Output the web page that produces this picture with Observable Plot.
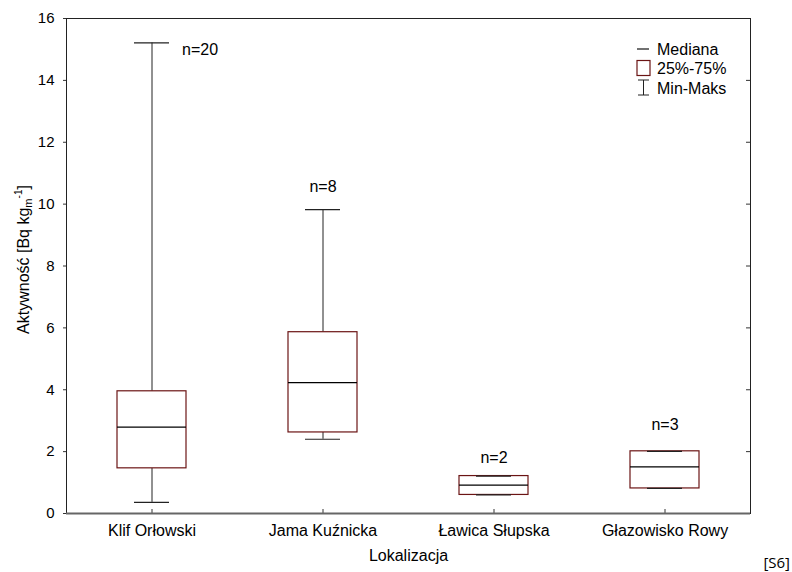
<!DOCTYPE html>
<html>
<head>
<meta charset="utf-8">
<script src="https://cdn.jsdelivr.net/npm/d3@7"></script>
<script src="https://cdn.jsdelivr.net/npm/@observablehq/plot@0.6"></script>
<style>
  html, body { margin: 0; padding: 0; background: #fff; }
  #chart svg { display: block; }
</style>
</head>
<body>
<div id="chart"></div>
<script>
// ---- data ----
const categories = ["Klif Orłowski", "Jama Kuźnicka", "Ławica Słupska", "Głazowisko Rowy"];
const minVals    = [0.36, 2.40, 0.60, 0.81];
const q1Vals     = [1.46, 2.62, 0.60, 0.81];
const medianVals = [2.79, 4.23, 0.92, 1.51];
const q3Vals     = [3.95, 5.86, 1.21, 2.01];
const maxVals    = [15.21, 9.82, 1.21, 2.01];
const nCounts    = [20, 8, 2, 3];
const nLabelY    = [15.0, 10.55, 1.8, 2.88];
const nLabelSide = ["right", "above", "above", "above"];
const yTicks     = [0, 2, 4, 6, 8, 10, 12, 14, 16];
const legendItems = ["Mediana", "25%-75%", "Min-Maks"];

const rows = categories.map((c, i) => ({
  cat: c, min: minVals[i], q1: q1Vals[i], med: medianVals[i], q3: q3Vals[i], max: maxVals[i],
  n: nCounts[i], ly: nLabelY[i], side: nLabelSide[i]
}));

const W = 792, H = 572;
const mL = 66, mR = 42, mT = 18, mB = 59;
const boxColor = "#6b1414";
const font = "'Liberation Sans', Arial, sans-serif";

const plot = Plot.plot({
  width: W, height: H,
  marginLeft: mL, marginRight: mR, marginTop: mT, marginBottom: mB,
  style: { fontFamily: font, fontSize: "16px", background: "#fff", color: "#000" },
  x: { domain: categories, padding: 0, label: null },
  y: { domain: [0, 16], label: null },
  marks: [
    // whiskers
    Plot.ruleX(rows, { x: "cat", y1: "min", y2: "q1", stroke: "#222", strokeWidth: 1 }),
    Plot.ruleX(rows, { x: "cat", y1: "q3", y2: "max", stroke: "#222", strokeWidth: 1 }),
    // boxes
    Plot.barY(rows, { x: "cat", y1: "q1", y2: "q3", fill: "#fff", stroke: boxColor, strokeWidth: 1.2, insetLeft: 51, insetRight: 51 }),
    // median
    Plot.tickY(rows, { x: "cat", y: "med", stroke: "#000", strokeWidth: 1.3, insetLeft: 51, insetRight: 51 }),
    // caps
    Plot.tickY(rows, { x: "cat", y: "min", stroke: "#222", strokeWidth: 1.2, insetLeft: 68, insetRight: 68 }),
    Plot.tickY(rows, { x: "cat", y: "max", stroke: "#222", strokeWidth: 1.2, insetLeft: 68, insetRight: 68 }),
    // n labels
    Plot.text(rows.filter(d => d.side === "right"), { x: "cat", y: "ly", text: d => "n=" + d.n, textAnchor: "start", dx: 30, fontSize: 16, fill: "#000" }),
    Plot.text(rows.filter(d => d.side === "above"), { x: "cat", y: "ly", text: d => "n=" + d.n, textAnchor: "middle", fontSize: 16, fill: "#000" }),
    // axes
    Plot.axisY(yTicks, { anchor: "left", tickSize: 3, tickPadding: 9, label: null, fontSize: 15, stroke: "#333" }),
    Plot.axisY(yTicks, { anchor: "right", tickSize: -5, tickFormat: () => "", label: null, stroke: "#333" }),
    Plot.axisX({ anchor: "bottom", tickSize: -4, tickFormat: () => "", label: null, stroke: "#333" }),
    Plot.axisX({ anchor: "bottom", tickSize: 0, tickPadding: 11, label: null, fontSize: 16 }),
    Plot.frame({ stroke: "#222", strokeWidth: 1 }),
    Plot.ruleY([0], { stroke: "#666", strokeWidth: 2 }),
    Plot.text(["Lokalizacja"], { frameAnchor: "bottom", dy: 47, fontSize: 16, fill: "#000" })
  ]
});

document.getElementById("chart").appendChild(plot);

const svg = d3.select(plot);

// Y axis title with subscript/superscript
const yt = svg.append("text")
  .attr("transform", `translate(29,${mT + (H - mT - mB) / 2 - 6}) rotate(-90)`)
  .attr("text-anchor", "middle")
  .attr("font-family", font)
  .attr("font-size", 16)
  .attr("fill", "#000");
yt.append("tspan").text("Aktywność [Bq kg");
yt.append("tspan").attr("font-size", 11).attr("dy", 3).text("m");
yt.append("tspan").attr("font-size", 10).attr("dy", -10).text("-1");
yt.append("tspan").attr("dy", 7).text("]");

// Legend
const lg = svg.append("g").attr("font-family", font).attr("font-size", 16).attr("fill", "#000").attr("text-anchor", "start");
const lx = 637, ly0 = 49, step = 19.5;
// median symbol
lg.append("line").attr("x1", lx).attr("x2", lx + 12).attr("y1", ly0).attr("y2", ly0).attr("stroke", "#111").attr("stroke-width", 1.2);
// box symbol
lg.append("rect").attr("x", lx).attr("y", ly0 + step - 8).attr("width", 13).attr("height", 15).attr("fill", "#fff").attr("stroke", boxColor).attr("stroke-width", 1.2);
// whisker symbol
const wy = ly0 + 2 * step;
lg.append("line").attr("x1", lx + 6.5).attr("x2", lx + 6.5).attr("y1", wy - 8).attr("y2", wy + 7).attr("stroke", "#222");
lg.append("line").attr("x1", lx + 1).attr("x2", lx + 12).attr("y1", wy - 8).attr("y2", wy - 8).attr("stroke", "#222");
lg.append("line").attr("x1", lx + 1).attr("x2", lx + 12).attr("y1", wy + 7).attr("y2", wy + 7).attr("stroke", "#222");
legendItems.forEach((t, i) => {
  lg.append("text").attr("x", lx + 20).attr("y", ly0 + i * step).attr("dy", "0.35em").attr("text-anchor", "start").text(t);
});

// source tag
svg.append("text").attr("x", 790).attr("y", 568).attr("text-anchor", "end")
  .attr("font-family", "'Open Sans', 'Liberation Sans', sans-serif").attr("font-size", 15).attr("fill", "#000").text("[S6]");
</script>
</body>
</html>
